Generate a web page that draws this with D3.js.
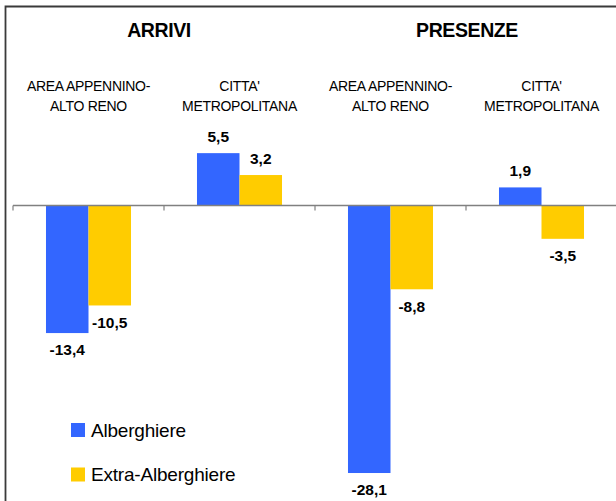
<!DOCTYPE html>
<html>
<head>
<meta charset="utf-8">
<script src="https://cdn.jsdelivr.net/npm/d3@7"></script>
<style>
    body { margin: 0; background: #fff; }
    svg { display: block; font-family: "Liberation Sans", Arial, sans-serif; }
</style>
</head>
<body>
<div id="chart"></div>
<script>
let categories = ["AREA APPENNINO-|ALTO RENO", "CITTA'|METROPOLITANA", "AREA APPENNINO-|ALTO RENO ", "CITTA'|METROPOLITANA "],
    groups = ["ARRIVI", "PRESENZE"],
    series = ["Alberghiere", "Extra-Alberghiere"],
    alberghiere = [-13.4, 5.5, -28.1, 1.9],
    extraAlberghiere = [-10.5, 3.2, -8.8, -3.5],
    colors = ["#3366ff", "#ffcc00"],
    width = 616,
    height = 501;

function createGraph() {

    const values = [alberghiere, extraAlberghiere];

    // Scales
    const x0 = d3.scaleBand()
        .domain(categories)
        .range([13, 617]);

    const x1 = d3.scaleBand()
        .domain(series)
        .range([0, x0.bandwidth()])
        .paddingOuter(0.776);

    const y = d3.scaleLinear()
        .domain([-30, 10])
        .range([491.1, 110.3]);

    const svg = d3.select("#chart")
        .append("svg")
        .attr("width", width)
        .attr("height", height);

    svg.append("rect")
        .attr("width", width)
        .attr("height", height)
        .attr("fill", "#fff");

    // frame (left + top)
    svg.append("path")
        .attr("d", "M5.5," + height + "V6.5H" + width)
        .attr("fill", "none")
        .attr("stroke", "#3a3a3a")
        .attr("stroke-width", 1.8);

    // group titles
    svg.selectAll(".title")
        .data(groups)
        .enter()
        .append("text")
        .attr("class", "title")
        .attr("x", (d, i) => (x0(categories[i * 2]) + x0(categories[i * 2 + 1]) + x0.bandwidth()) / 2 + (i === 0 ? -5 : 1))
        .attr("y", 37)
        .attr("text-anchor", "middle")
        .attr("font-size", "19.5px")
        .attr("font-weight", "bold")
        .attr("letter-spacing", "-0.4px")
        .text(d => d);

    // category labels
    const catLabels = svg.selectAll(".cat")
        .data(categories)
        .enter()
        .append("text")
        .attr("class", "cat")
        .attr("text-anchor", "middle")
        .attr("font-size", "14px")
        .attr("letter-spacing", "-0.3px");

    catLabels.selectAll("tspan")
        .data(d => d.trim().split("|").map(t => ({ t: t, c: d })))
        .enter()
        .append("tspan")
        .attr("x", d => x0(d.c) + x0.bandwidth() / 2)
        .attr("y", (d, i) => 90.7 + i * 20)
        .text(d => d.t);

    // bars
    series.forEach((s, si) => {
        svg.selectAll(".bar-" + si)
            .data(values[si])
            .enter()
            .append("rect")
            .attr("class", "bar-" + si)
            .attr("x", (d, i) => x0(categories[i]) + x1(s))
            .attr("width", x1.bandwidth())
            .attr("y", d => y(Math.max(0, d)))
            .attr("height", d => Math.abs(y(d) - y(0)))
            .attr("fill", colors[si]);

        svg.selectAll(".lbl-" + si)
            .data(values[si])
            .enter()
            .append("text")
            .attr("class", "lbl-" + si)
            .attr("x", (d, i) => x0(categories[i]) + x1(s) + x1.bandwidth() / 2)
            .attr("y", d => d >= 0 ? y(d) - 11 : y(d) + 22.3)
            .attr("text-anchor", "middle")
            .attr("font-size", "15.5px")
            .attr("font-weight", "bold")
            .text(d => d.toFixed(1).replace(".", ","));
    });

    // axis
    const boundaries = categories.map(c => x0(c)).concat([x0.range()[1]]);
    svg.append("line")
        .attr("x1", x0.range()[0])
        .attr("x2", width)
        .attr("y1", y(0))
        .attr("y2", y(0))
        .attr("stroke", "#808080")
        .attr("stroke-width", 1.6);

    svg.selectAll(".tick")
        .data(boundaries)
        .enter()
        .append("line")
        .attr("class", "tick")
        .attr("x1", d => d)
        .attr("x2", d => d)
        .attr("y1", y(0))
        .attr("y2", y(0) + 5)
        .attr("stroke", "#808080")
        .attr("stroke-width", 1.2);

    // legend
    const legend = svg.selectAll(".legend")
        .data(series)
        .enter()
        .append("g")
        .attr("class", "legend")
        .attr("transform", (d, i) => "translate(71," + (423 + i * 44.5) + ")");

    legend.append("rect")
        .attr("width", 14)
        .attr("height", 14)
        .attr("fill", (d, i) => colors[i]);

    legend.append("text")
        .attr("x", 20)
        .attr("y", 13.7)
        .attr("font-size", "19px")
        .attr("letter-spacing", "-0.2px")
        .text(d => d);
}

document.addEventListener('DOMContentLoaded', function (e) {
    createGraph();
});
</script>
</body>
</html>
